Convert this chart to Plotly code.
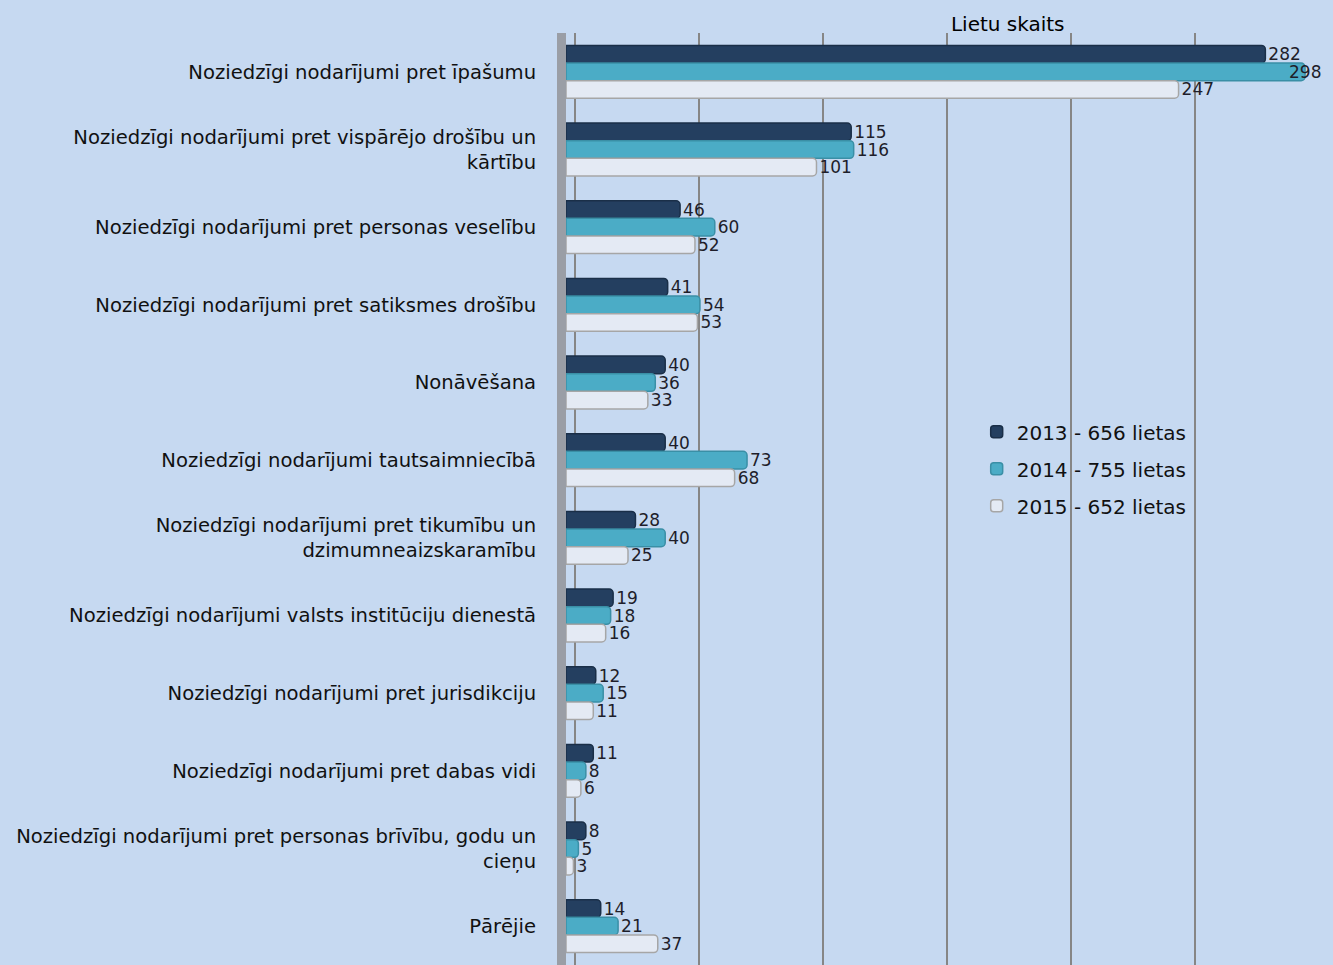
import plotly.graph_objects as go

categories = [
    "Noziedzīgi nodarījumi pret īpašumu",
    "Noziedzīgi nodarījumi pret vispārējo drošību un<br>kārtību",
    "Noziedzīgi nodarījumi pret personas veselību",
    "Noziedzīgi nodarījumi pret satiksmes drošību",
    "Nonāvēšana",
    "Noziedzīgi nodarījumi tautsaimniecībā",
    "Noziedzīgi nodarījumi pret tikumību un<br>dzimumneaizskaramību",
    "Noziedzīgi nodarījumi valsts institūciju dienestā",
    "Noziedzīgi nodarījumi pret jurisdikciju",
    "Noziedzīgi nodarījumi pret dabas vidi",
    "Noziedzīgi nodarījumi pret personas brīvību, godu un<br>cieņu",
    "Pārējie",
]
series_names = ["2013 - 656 lietas", "2014 - 755 lietas", "2015 - 652 lietas"]
v2013 = [282, 115, 46, 41, 40, 40, 28, 19, 12, 11, 8, 14]
v2014 = [298, 116, 60, 54, 36, 73, 40, 18, 15, 8, 5, 21]
v2015 = [247, 101, 52, 53, 33, 68, 25, 16, 11, 6, 3, 37]
x_ticks = [0, 50, 100, 150, 200, 250, 300]
x_max = 300

fills = ["#243f60", "#4bacc6", "#e4eaf4"]
edges = ["#1a2f48", "#3a8fa6", "#a6a6a6"]
FONT = "DejaVu Sans, Open Sans, sans-serif"
LABEL_FONT = dict(family=FONT, size=17, color="#1e1e2a")

fig = go.Figure()
edge_labels = []
for name, vals, fc, ec in zip(series_names, [v2013, v2014, v2015], fills, edges):
    # labels of bars reaching the right edge are drawn overlapping the bar end
    near_edge = [v > 0.97 * x_max for v in vals]
    positions = ["none" if ne else "outside" for ne in near_edge]
    fig.add_trace(go.Bar(
        y=categories, x=vals, orientation="h", name=name, legendgroup=name,
        marker=dict(color=fc, line=dict(color=ec, width=1.5), cornerradius=4),
        text=[str(v) for v in vals], textposition=positions, constraintext="none",
        textfont=LABEL_FONT, cliponaxis=False,
    ))
    edge_labels += [(v, c) for v, c, ne in zip(vals, categories, near_edge) if ne]

for v, c in edge_labels:
    fig.add_annotation(x=v, y=c, xref="x", yref="y", text=str(v), showarrow=False,
                       xanchor="left", xshift=-18, font=LABEL_FONT)

# empty helper trace so the (slightly shifted, back-wall) grid axis is drawn
fig.add_trace(go.Scatter(x=[], y=[], xaxis="x2", yaxis="y", showlegend=False, hoverinfo="skip"))

bg = "#c6d9f1"
fig.update_layout(
    width=1333, height=965,
    paper_bgcolor=bg, plot_bgcolor=bg,
    barmode="group", bargap=0.32, bargroupgap=0.0,
    margin=dict(l=566, r=23, t=33, b=0),
    font=dict(family=FONT, size=19, color="#111"),
    title=dict(text="Lietu skaits", x=0.756, xanchor="center", y=0.982, yanchor="top",
               font=dict(size=20, color="#000")),
    showlegend=True,
    legend=dict(x=0.552, y=0.593, xanchor="left", yanchor="top",
                bgcolor="rgba(0,0,0,0)", font=dict(size=20, color="#111"),
                itemwidth=30, tracegroupgap=8),
    xaxis=dict(range=[0, x_max], tickvals=x_ticks, showticklabels=False,
               showgrid=False, zeroline=False, showline=False),
    xaxis2=dict(range=[-3.6, x_max - 3.6], tickvals=x_ticks, showticklabels=False,
                overlaying="x", side="bottom", showgrid=True, gridcolor="#868686",
                gridwidth=2, zeroline=False, showline=False),
    yaxis=dict(autorange="reversed", showgrid=False, ticks="",
               showline=True, linecolor="#9a9ea6", linewidth=9,
               ticklabelstandoff=17,
               tickfont=dict(size=19.6, color="#111")),
)
fig.write_html("out.html", config={"displayModeBar": False},
               post_script="document.body.style.margin='0';")
